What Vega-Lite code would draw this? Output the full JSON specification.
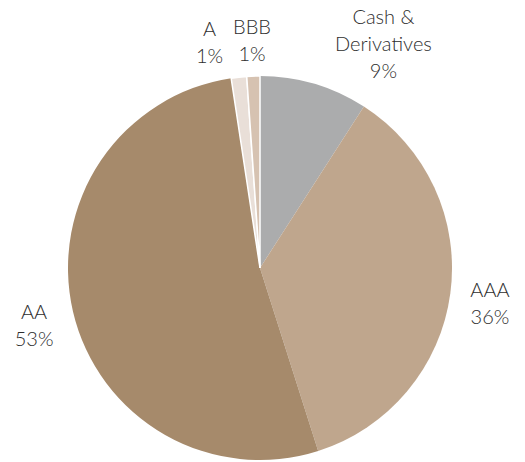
{
  "$schema": "https://vega.github.io/schema/vega-lite/v6.json",
  "width": 520,
  "height": 388,
  "autosize": {"type": "none"},
  "padding": {"left": 0, "top": 74, "right": 5, "bottom": 0},
  "background": "white",
  "view": {"stroke": null},
  "data": {
    "values": [
      {"rating": "Cash & Derivatives", "label": "Cash &\nDerivatives\n9%", "value": 9.1, "order": 1},
      {"rating": "AAA", "label": "AAA\n36%", "value": 36.0, "order": 2},
      {"rating": "AA", "label": "AA\n53%", "value": 52.5, "order": 3},
      {"rating": "A", "label": "A\n1%", "value": 1.3, "order": 4},
      {"rating": "BBB", "label": "BBB\n1%", "value": 1.1, "order": 5}
    ]
  },
  "encoding": {
    "theta": {"field": "value", "type": "quantitative", "stack": true},
    "order": {"field": "order", "type": "quantitative"}
  },
  "layer": [
    {
      "mark": {"type": "arc", "outerRadius": 192, "strokeWidth": 1.5},
      "encoding": {
        "color": {
          "field": "rating",
          "type": "nominal",
          "scale": {
            "domain": ["Cash & Derivatives", "AAA", "AA", "A", "BBB"],
            "range": ["#ABACAD", "#BFA68D", "#A68A6B", "#E9DFD8", "#D6C2B1"]
          },
          "legend": null
        },
        "stroke": {"condition": {"test": "datum.value < 5", "value": "white"}, "value": null}
      }
    },
    {
      "mark": {"type": "text", "radius": 232, "dy": -8, "lineBreak": "\n", "font": "Lato", "fontSize": 20, "fontWeight": 300, "lineHeight": 27, "color": "#2e2e2e", "align": "center", "baseline": "middle"},
      "encoding": {
        "text": {"condition": {"test": "datum.order === 1 || datum.order === 4", "value": ""}, "field": "label", "type": "nominal"}
      }
    },
    {
      "mark": {"type": "text", "radius": 232, "dx": -25, "dy": -7, "lineBreak": "\n", "font": "Lato", "fontSize": 20, "fontWeight": 300, "lineHeight": 27, "color": "#2e2e2e", "align": "center", "baseline": "middle"},
      "encoding": {
        "text": {"condition": {"test": "datum.order !== 4", "value": ""}, "field": "label", "type": "nominal"}
      }
    },
    {
      "mark": {"type": "text", "radius": 232, "dx": 58, "dy": -27, "lineBreak": "\n", "font": "Lato", "fontSize": 20, "fontWeight": 300, "lineHeight": 27, "color": "#2e2e2e", "align": "center", "baseline": "middle"},
      "encoding": {
        "text": {"condition": {"test": "datum.order !== 1", "value": ""}, "field": "label", "type": "nominal"}
      }
    }
  ]
}
